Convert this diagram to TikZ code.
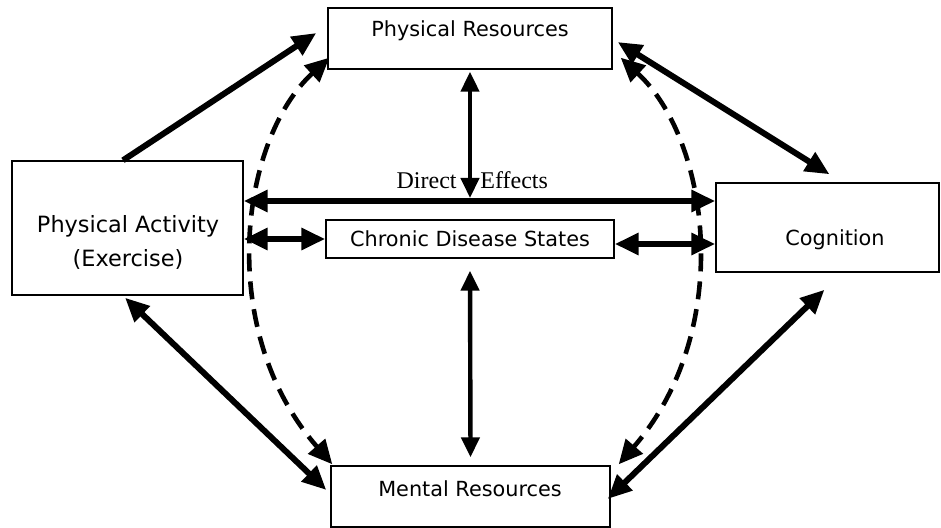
\documentclass[tikz,border=0pt]{standalone}
\usepackage{fontspec}
\setmainfont{DejaVu Sans}
\newfontfamily\timesfont{Liberation Serif}
\usetikzlibrary{arrows.meta, calc}

\begin{document}
\begin{tikzpicture}[x=0.5pt, y=-0.5pt,
  box/.style={draw, line width=0.7pt, inner sep=0pt},
  lbl/.style={font=\fontsize{10.4}{17}\selectfont, inner sep=0pt, align=center},
  link/.style={line width=3pt, -{Triangle[length=12pt, width=10.5pt]}},
  dbl/.style={line width=3pt, {Triangle[length=12pt, width=10.5pt]}-{Triangle[length=12pt, width=10.5pt]}},
  vdbl/.style={line width=2.2pt, {Triangle[length=10pt, width=9pt]}-{Triangle[length=10pt, width=9pt]}},
  dashlink/.style={line width=2.3pt, dash pattern=on 9pt off 5pt, {Triangle[length=12pt, width=11pt]}-{Triangle[length=12pt, width=11pt]}},
]
\useasboundingbox (0,0) rectangle (941,528);

% Boxes
\node[box, minimum width=142pt, minimum height=30.5pt] (pr) at (470,38.5) {};
\node[box, minimum width=115.5pt, minimum height=67pt] (pa) at (127.5,228) {};
\node[box, minimum width=144pt, minimum height=19pt, lbl] (cds) at (470,239) {Chronic Disease States};
\node[box, minimum width=111.5pt, minimum height=44.5pt] (cog) at (827.5,227.5) {};
\node[box, minimum width=139.5pt, minimum height=30.5pt] (mr) at (470.5,496.5) {};

\node[lbl] (prt) at (470,31) {Physical Resources};
\node[lbl, font=\fontsize{11.2}{17}\selectfont] (pat) at (128,242) {Physical Activity\\(Exercise)};
\node[lbl] (cogt) at (835,240) {Cognition};
\node[lbl] (mrt) at (470,489) {Mental Resources};

% Direct effects
\coordinate (de) at (470,201);
\draw[dbl] (pa.east |- de) -- (cog.west |- de);
\draw[vdbl] ([shift={(0,2)}]pr.south) -- ([shift={(0,-3)}]de);
\node[font=\timesfont\fontsize{12}{14}\selectfont, inner sep=0pt, anchor=base east] (direct) at ([shift={(-13,-12)}]de) {Direct};
\node[font=\timesfont\fontsize{12}{14}\selectfont, inner sep=0pt, anchor=base west] (effects) at ([shift={(10,-12)}]de) {Effects};

% Chronic disease links
\draw[dbl] (pa.east |- cds.west) -- (cds.west);
\draw[dbl] ([shift={(0,5)}]cds.east) -- ([shift={(0,5)}]cds.east -| cog.west);
\draw[vdbl] ([shift={(0,12)}]cds.south) -- ([shift={(0,-8)}]mr.north);

% Outer links
\draw[link] ([shift={(-4.5,0)}]pa.north) -- ([shift={(-11,-5.5)}]pr.west);
\draw[dbl] ([shift={(5,3.5)}]pr.east) -- ([shift={(2,-8)}]cog.north);
\draw[dbl] ([shift={(-2.5,2)}]pa.south) -- ([shift={(-4,-6.5)}]mr.west);
\draw[dbl] ([shift={(-3,17)}]cog.south) -- ([shift={(-3,2.5)}]mr.east);

% Dashed arcs
\draw[dashlink] ([shift={(2,-12)}]pr.south west) .. controls (240,140) and (215,330) .. ([shift={(2,-1)}]mr.north west);
\draw[dashlink] ([shift={(8,-12)}]pr.south east) .. controls (710,140) and (735,330) .. ([shift={(8,-1)}]mr.north east);

\end{tikzpicture}
\end{document}
